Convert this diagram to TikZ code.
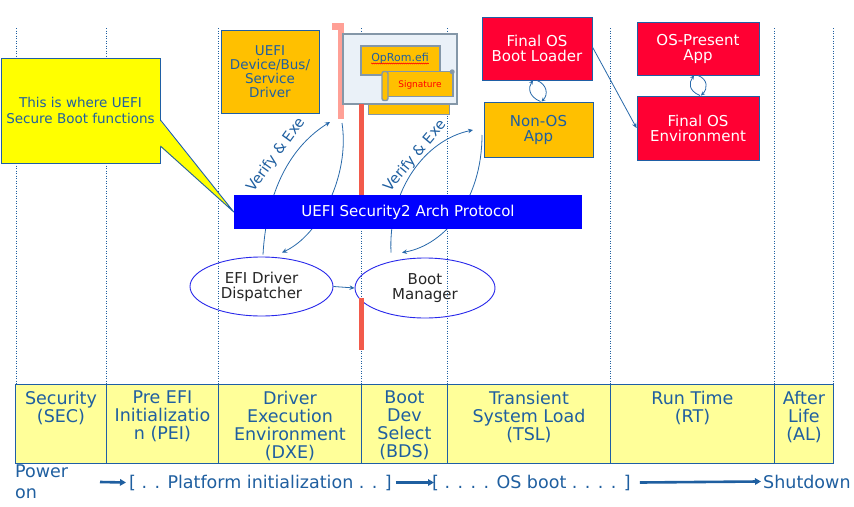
\documentclass[tikz,border=0pt]{standalone}
\usepackage{fontspec}
\setmainfont{DejaVu Sans}
\usetikzlibrary{arrows.meta,shapes.geometric,decorations.pathmorphing}
\definecolor{txtblue}{RGB}{31,95,160}
\definecolor{bordblue}{RGB}{31,95,165}
\definecolor{connblue}{RGB}{40,105,170}
\definecolor{tblyellow}{RGB}{255,255,153}
\definecolor{callyellow}{RGB}{255,255,0}
\definecolor{orng}{RGB}{255,192,0}
\definecolor{osred}{RGB}{255,0,51}
\definecolor{protblue}{RGB}{0,0,255}
\definecolor{ellblue}{RGB}{40,40,235}
\definecolor{pinkbar}{RGB}{255,160,150}
\definecolor{redbar}{RGB}{242,90,75}
\definecolor{cardfill}{RGB}{234,241,248}
\definecolor{cardgray}{RGB}{132,151,168}
\begin{document}
\begin{tikzpicture}[x=1pt,y=-1pt,
  dotline/.style={draw=txtblue, line width=0.6pt, dash pattern=on 0.7pt off 1.8pt},
  cell/.style={draw=bordblue, fill=tblyellow, line width=0.9pt, minimum height=79pt, inner sep=0pt, anchor=north west},
  celltext/.style={anchor=north, align=center, text=txtblue, inner sep=0pt, font=\fontsize{17.5}{18}\selectfont},
  obox/.style={draw=bordblue, line width=0.9pt, fill=orng, text=txtblue, inner sep=0pt, align=center},
  rbox/.style={draw=bordblue, line width=0.9pt, fill=osred, text=white, inner sep=0pt, align=center, font=\fontsize{15}{15}\selectfont},
  ell/.style={ellipse, draw=ellblue, line width=0.9pt, inner sep=0pt, align=center, text=black!85, font=\fontsize{15}{15}\selectfont},
  conn/.style={draw=connblue, line width=0.8pt, -{Stealth[length=5pt,width=4.5pt]}},
  bigarrow/.style={draw=txtblue, line width=2.6pt, -{Triangle[length=6pt,width=6.5pt]}},
  bottext/.style={text=txtblue, inner sep=0pt, font=\fontsize{17.5}{21}\selectfont},
  vlabel/.style={text=txtblue, inner sep=0pt, font=\fontsize{14.5}{15}\selectfont},
  graypart/.style={draw=cardgray, line width=1.4pt, fill=orng, inner sep=0pt}]
\useasboundingbox (0,0) rectangle (854,506);
\fill[white] (0,0) rectangle (854,506);

% dotted phase separators
\foreach \xx in {16,106,218,361,447,610,774,833}
  \draw[dotline] (\xx,28) -- (\xx,384);

% red / pink bars
\fill[pinkbar] (332,23) rectangle (344,30);
\fill[pinkbar] (338,23) rectangle (344,119);

% option rom card
\node[draw=cardgray, line width=0.9pt, fill=orng, minimum width=81pt, minimum height=14pt, inner sep=0pt] (strip) at (408.5,107) {};
\node[draw=cardgray, line width=1.5pt, fill=cardfill, minimum width=114pt, minimum height=70pt, inner sep=0pt] (card) at (400,69) {};
\node[graypart, minimum width=79pt, minimum height=29pt] (opbox) at (400.5,60.5) {};
\node[text=txtblue, font=\fontsize{11}{11}\selectfont, inner sep=0pt] (optext) at (400,58) {OpRom.efi};
\draw[red, line width=0.5pt, decorate, decoration={snake, amplitude=0.5pt, segment length=2pt}]
  ([shift={(0,2.5)}]optext.base west) -- ([shift={(0,2.5)}]optext.base east);
\node[graypart, minimum width=66pt, minimum height=25pt] (sig) at (420,84) {};
\node[graypart, rounded corners=2pt, minimum width=6pt, minimum height=29pt] (sigroll) at (385,86) {};
\fill[cardgray] ([shift={(-1.5,1)}]sig.north east) circle[radius=2.5pt];
\node[text=red, font=\fontsize{9}{9}\selectfont, inner sep=0pt] (sigtext) at (420,85) {Signature};

\fill[redbar] (359,104) rectangle (364,200);

% top boxes
\node[obox, minimum width=98pt, minimum height=83pt, font=\fontsize{13.5}{14}\selectfont] (drv) at (270,71.5) {UEFI\\Device/Bus/\\Service\\Driver};
\node[rbox, minimum width=110pt, minimum height=63pt] (bl) at (537,48.5) {Final OS\\Boot Loader};
\node[obox, minimum width=109pt, minimum height=55pt, font=\fontsize{15}{15}\selectfont] (nonos) at (538.5,129.5) {Non-OS\\App};
\node[rbox, minimum width=122pt, minimum height=53pt] (osapp) at (698,48.5) {OS-Present\\App};
\node[rbox, minimum width=122pt, minimum height=64pt] (osenv) at (698,128) {Final OS\\Environment};

% ellipses
\node[ell, minimum width=143pt, minimum height=59pt] (disp) at (261.5,286.5) {EFI Driver\\Dispatcher};
\node[ell, minimum width=140pt, minimum height=60pt] (bm) at (425,288) {Boot\\Manager};
\fill[redbar] (359,298) rectangle (364,350);

% verify & exe arcs
\coordinate (dxeTopA) at (330,122);
\coordinate (dxeTopB) at (342,123);
\coordinate (bdsTopA) at (473,130);
\coordinate (bdsTopB) at (482,135);
\draw[conn] ([shift={(1.5,-2)}]disp.north) .. controls (266,200) and (285,150) .. (dxeTopA);
\draw[conn] (dxeTopB) .. controls (350,175) and (320,235) .. ([shift={(20.5,-4)}]disp.north);
\draw[conn] ([shift={(-34,-5)}]bm.north) .. controls (388,190) and (425,140) .. (bdsTopA);
\draw[conn] (bdsTopB) .. controls (482,200) and (445,245) .. ([shift={(-23,-5)}]bm.north);
\node[vlabel, rotate=54] (vxA) at (276,155) {Verify \& Exe};
\node[vlabel, rotate=50] (vxB) at (415,156) {Verify \& Exe};

% protocol bar
\node[fill=protblue, minimum width=348pt, minimum height=34pt, inner sep=0pt, text=white, font=\fontsize{15}{15}\selectfont] (prot) at (408,212) {UEFI Security2 Arch Protocol};

% callout
\node[draw=bordblue, fill=callyellow, line width=0.9pt, minimum width=159pt, minimum height=105pt, inner sep=0pt, align=center, text=txtblue, font=\fontsize{13.5}{15.7}\selectfont] (callout) at (80.5,110.5) {This is where UEFI\\Secure Boot functions};
\fill[callyellow] ([shift={(-0.8,9.5)}]callout.east) -- (prot.west) -- ([shift={(-0.8,35.5)}]callout.east) -- cycle;
\draw[bordblue, line width=0.9pt, line join=round] ([shift={(0,9.5)}]callout.east) -- (prot.west) -- ([shift={(0,35.5)}]callout.east);

% other connectors
\draw[conn] (disp.east) -- (bm.west);
\draw[conn] ([yshift=1.5pt]bl.east) -- (osenv.west);
\draw[conn, -{Stealth[length=4pt,width=4pt]}] ([xshift=2pt]nonos.north) .. controls +(-12,-5) and +(-5,7) .. ([xshift=-4pt]bl.south);
\draw[conn, -{Stealth[length=4pt,width=4pt]}] (bl.south) .. controls +(10,4) and +(7,-7) .. ([xshift=3pt]nonos.north);
\draw[conn, -{Stealth[length=4pt,width=4pt]}] ([xshift=2pt]osenv.north) .. controls +(-12,-5) and +(-5,7) .. ([xshift=-4pt]osapp.south);
\draw[conn, -{Stealth[length=4pt,width=4pt]}] (osapp.south) .. controls +(10,4) and +(7,-7) .. ([xshift=3pt]osenv.north);

% phase table
\node[cell, minimum width=91pt] (sec) at (15,384) {};
\node[cell, minimum width=112pt] (pei) at (106,384) {};
\node[cell, minimum width=143pt] (dxe) at (218,384) {};
\node[cell, minimum width=86pt] (bds) at (361,384) {};
\node[cell, minimum width=163pt] (tsl) at (447,384) {};
\node[cell, minimum width=164pt] (rt) at (610,384) {};
\node[cell, minimum width=59pt] (al) at (774,384) {};
\node[celltext] (secT) at ([yshift=-7pt]sec.north) {Security\\(SEC)};
\node[celltext] (peiT) at ([yshift=-7pt]pei.north) {Pre EFI\\Initializatio\\n (PEI)};
\node[celltext] (dxeT) at ([yshift=-7pt]dxe.north) {Driver\\Execution\\Environment\\(DXE)};
\node[celltext] (bdsT) at ([yshift=-7pt]bds.north) {Boot\\Dev\\Select\\(BDS)};
\node[celltext] (tslT) at ([yshift=-7pt]tsl.north) {Transient\\System Load\\(TSL)};
\node[celltext] (rtT) at ([yshift=-7pt]rt.north) {Run Time\\(RT)};
\node[celltext] (alT) at ([yshift=-7pt]al.north) {After\\Life\\(AL)};

% timeline
\node[bottext, anchor=west, align=left] (pwr) at (15,481.5) {Power\\on};
\node[bottext, anchor=base west] (pf) at (129,488) {[ . . Platform initialization . . ]};
\node[bottext, anchor=base west] (osb) at (432,488) {[ . . . . OS boot . . . . ]};
\node[bottext, anchor=base west] (shut) at (763,488) {Shutdown};
\coordinate (arrStart) at (100,482);
\draw[bigarrow] (arrStart) -- ([xshift=-3pt]pf.west);
\draw[bigarrow] ([xshift=4pt]pf.east) -- ([xshift=2pt]osb.west);
\draw[bigarrow] ([xshift=9pt]osb.east) -- ([xshift=-2pt]shut.west);
\end{tikzpicture}
\end{document}
